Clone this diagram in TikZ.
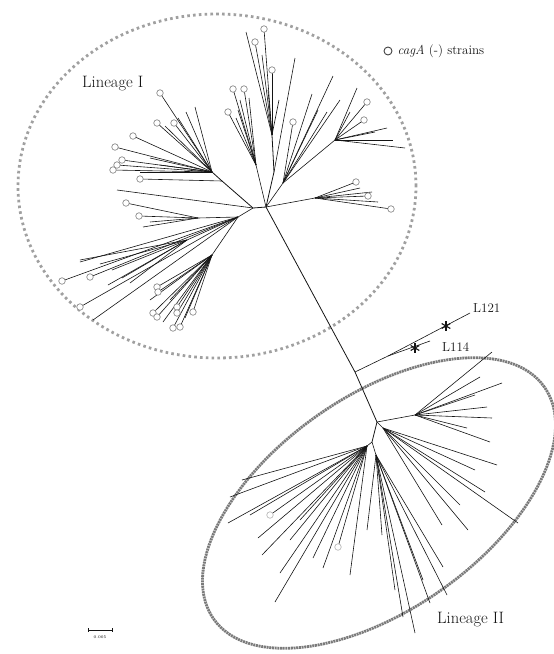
\documentclass[tikz,border=0pt]{standalone}
\usetikzlibrary{positioning}
\definecolor{ink}{HTML}{141414}
\definecolor{ringI}{HTML}{A0A0A0}
\definecolor{ringII}{HTML}{7A7A7A}
\definecolor{negcol}{HTML}{8C8C8C}
\tikzset{
  branch/.style={draw=ink,line width=0.6pt},
  trunk/.style={branch,line width=0.8pt},
  neg/.style={circle,draw=negcol,line width=0.7pt,fill=white,inner sep=0pt,minimum size=6.5pt},
  negfaint/.style={neg,draw=negcol!60},
  negkey/.style={neg,draw=ink!80,minimum size=8pt,line width=0.9pt},
  ringone/.style={draw=ringI,line width=2.8pt,dash pattern=on 2.6pt off 3.2pt},
  ringtwo/.style={draw=ringII,line width=2.8pt,dash pattern=on 2pt off 0.7pt},
  lineagetext/.style={font=\fontsize{16.5}{18}\selectfont,text=ink,inner sep=0pt},
  straintext/.style={font=\fontsize{13}{15}\selectfont,text=ink,inner sep=0pt},
  asterisk/.style={minimum size=11pt,inner sep=0pt,
    path picture={\foreach \a in {90,30,150}
      \draw[ink,line width=1.1pt] (path picture bounding box.center) ++(\a:5pt) -- ++(\a+180:10pt);}}
}
\begin{document}
\begin{tikzpicture}[x=1pt,y=-1pt]
\useasboundingbox (0,0) rectangle (554,654);

\draw[ringone] (217,186) ellipse [x radius=199pt, y radius=172pt];
\coordinate (cII) at (379,503);
\draw[ringtwo,rotate around={35:(cII)}] (cII) ellipse [x radius=202pt, y radius=107pt];

% lineage I
\coordinate (hubI) at (266,207);
\coordinate (hubIa) at (253,208);
\coordinate (nA2) at (274,172);
\coordinate (nA) at (272,135);
\coordinate (nB) at (283,183);
\coordinate (nB2) at (335,140);
\coordinate (nC) at (315,198);
\coordinate (nD) at (256,165);
\coordinate (nF) at (222,181);
\coordinate (nE) at (212,172);
\coordinate (nG) at (238,217);
\coordinate (nG1) at (198,218);
\coordinate (nG2) at (187,240);
\coordinate (nG3) at (212,255);

\draw[trunk] (hubI) -- (nA2) -- (nA);
\draw[branch] (hubI) -- (nB) -- (nB2);
\draw[branch] (hubI) -- (nC);
\draw[branch] (hubI) -- (nD);
\draw[trunk] (hubI) -- (hubIa) -- (nF) -- (nE);
\draw[branch] (hubIa) -- (nG);
\draw[branch] (nG) -- (nG1);
\draw[branch] (nG) -- (nG2);
\draw[branch] (nG) -- (nG3);
\draw[branch] (nA2) -- (295,58);
\draw[branch] (hubIa) -- (117,190);
\draw[branch] (nF) -- (140,179);

\foreach \p in {(246,32),(262,55),(268,90),(279,100),(255,42),(264,29),(272,70)}
  \draw[branch] (nA) -- \p;
\foreach \p in {(312,94),(318,110),(333,76),(327,112),(340,100),(293,122)}
  \draw[branch] (nB) -- \p;
\foreach \p in {(357,88),(387,128),(393,140),(405,148),(375,132),(350,112),(367,102),(364,120)}
  \draw[branch] (nB2) -- \p;
\foreach \p in {(360,188),(372,192),(378,202),(356,182),(368,196),(391,209)}
  \draw[branch] (nC) -- \p;
\foreach \p in {(240,100),(249,98),(238,110),(236,118),(233,89),(244,89),(228,112)}
  \draw[branch] (nD) -- \p;
\foreach \p in {(195,107),(186,112),(178,118),(165,126),(150,158),(160,165),(140,172),
                (160,93),(174,123),(157,123),(133,136),(115,147),(122,160),(117,165),(113,170)}
  \draw[branch] (nE) -- \p;
\foreach \p in {(143,227),(150,222),(126,203),(139,216)}
  \draw[branch] (nG1) -- \p;
\foreach \p in {(80,262),(93,320),(62,281),(90,277),(80,307)}
  \draw[branch] (nG) -- \p;
\foreach \p in {(80,260),(100,264),(112,270),(122,278),(130,283),(108,285)}
  \draw[branch] (nG2) -- \p;
\foreach \p in {(150,300),(163,322),(170,300),(185,318),(157,287),(158,292),(153,313),
                (157,317),(177,307),(177,313),(193,312),(173,328),(180,327)}
  \draw[branch] (nG3) -- \p;

\foreach \p in {(255,42),(264,29),(272,70),(293,122),(367,102),(364,120),(356,182),(368,196),
                (391,209),(233,89),(244,89),(228,112),(160,93),(174,123),(157,123),(133,136),
                (115,147),(122,160),(117,165),(113,170),(140,179),(126,203),(139,216),(62,281),
                (90,277),(80,307),(157,287),(158,292),(153,313),(157,317),(177,307),(177,313),
                (193,312),(173,328),(180,327)}
  \node[neg] at \p {};

% lineage II
\coordinate (nT) at (355,372);
\coordinate (hubII) at (377,422);
\coordinate (hubIIb) at (372,442);
\coordinate (nL) at (388,356);
\coordinate (nR) at (415,415);
\coordinate (nQ) at (383,428);
\coordinate (nP) at (376,455);
\coordinate (nS) at (367,446);

\draw[trunk] (hubI) -- (nT) -- (hubII) -- (hubIIb);
\draw[branch] (nT) -- (nL);
\draw[branch] (hubII) -- (nR);
\draw[branch] (hubII) -- (nQ);
\draw[branch] (hubIIb) -- (nP);
\draw[branch] (hubIIb) -- (nS);
\draw[branch] (nL) -- (470,313);
\draw[branch] (nL) -- (430,341);

\foreach \p in {(492,352),(480,377),(502,383),(487,407),(492,418),(467,428),(490,442),(475,395)}
  \draw[branch] (nR) -- \p;
\foreach \p in {(497,465),(485,492),(518,523),(468,530),(442,525),(460,505),(475,470)}
  \draw[branch] (nQ) -- \p;
\foreach \p in {(443,567),(447,595),(430,603),(415,633),(403,617),(382,535),(367,530),(423,580),(395,590)}
  \draw[branch] (nP) -- \p;
\foreach \p in {(230,497),(242,480),(228,523),(258,538),(262,555),(280,573),(275,602),(313,558),
                (323,568),(350,575),(300,520),(290,540),(250,515),(270,515),(338,547)}
  \draw[branch] (nS) -- \p;
\foreach \p in {(270,515),(338,547)}
  \node[negfaint] at \p {};

\node[asterisk] (s121) at (446,326) {};
\node[asterisk] (s114) at (415,348) {};
\node[straintext,anchor=west] (l121) at (473,308) {L121};
\node[straintext,anchor=west] (l114) at (442,347) {L114};

\node[lineagetext,anchor=west] (linI) at (82,84) {Lineage I};
\node[lineagetext,anchor=west] (linII) at (437,620) {Lineage II};

\node[negkey] (key) at (388,51) {};
\node[straintext,anchor=west,right=5pt of key] (keytext) {\textit{cagA} (-) strains};

\coordinate (sbL) at (88,630);
\coordinate (sbR) at (112,630);
\draw[branch] (sbL) -- (sbR);
\draw[branch] (sbL) ++(0,-2) -- ++(0,4);
\draw[branch] (sbR) ++(0,-2) -- ++(0,4);
\node[font=\fontsize{4}{4}\selectfont,inner sep=0pt] (sbtext) at (100,637) {0.005};
\end{tikzpicture}
\end{document}
